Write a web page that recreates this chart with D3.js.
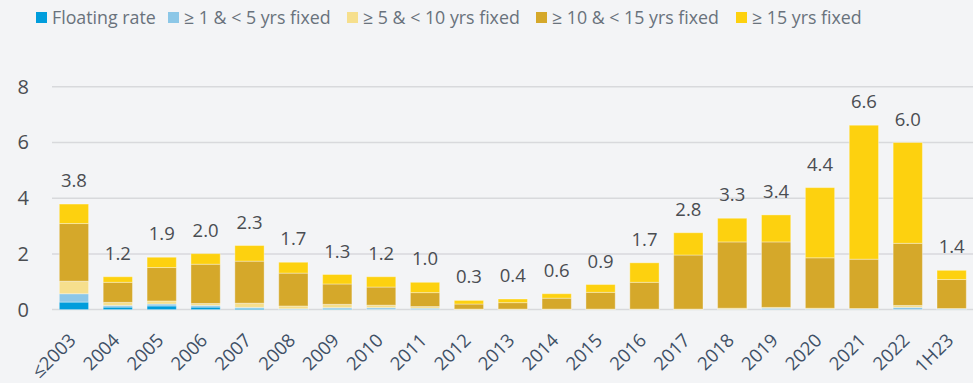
<!DOCTYPE html>
<html>
<head>
<meta charset="utf-8">
<script src="https://cdn.jsdelivr.net/npm/d3@7/dist/d3.min.js"></script>
<style>
  html, body { margin: 0; padding: 0; background: #f3f4f6; }
  svg { display: block; font-family: "Open Sans", "Noto Sans", sans-serif; }
</style>
</head>
<body>
<svg id="chart" width="973" height="383"></svg>
<script>
// Issuance by fixed-rate period (totals per year)
const categories = ["≤2003","2004","2005","2006","2007","2008","2009","2010","2011","2012",
  "2013","2014","2015","2016","2017","2018","2019","2020","2021","2022","1H23"];

const floatingRate = [0.27,0.09,0.13,0.09,0.05,0.01,0.02,0.01,0.00,0,0,0,0,0,0,0,0,0,0,0,0];
const fixed1to5    = [0.30,0.06,0.07,0.06,0.03,0.02,0.05,0.06,0.05,0,0,0,0,0,0,0.01,0.05,0.02,0.02,0.08,0.02];
const fixed5to10   = [0.45,0.11,0.11,0.07,0.15,0.10,0.12,0.09,0.06,0.02,0.02,0.02,0.02,0.02,0.02,0.04,0.03,0.03,0.02,0.07,0.02];
const fixed10to15  = [2.07,0.72,1.20,1.41,1.51,1.18,0.73,0.65,0.50,0.18,0.23,0.39,0.60,0.96,1.94,2.38,2.35,1.81,1.77,2.23,1.04];
const fixed15plus  = [0.70,0.20,0.37,0.38,0.56,0.39,0.34,0.37,0.37,0.13,0.13,0.16,0.28,0.70,0.80,0.85,0.97,2.52,4.81,3.62,0.33];

const seriesNames = ["Floating rate","≥ 1 & < 5 yrs fixed","≥ 5 & < 10 yrs fixed","≥ 10 & < 15 yrs fixed","≥ 15 yrs fixed"];
const seriesColors = ["#009ddc","#8cc7e7","#f6df8d","#d5a82a","#fdd10f"];
const yTicks = [0, 2, 4, 6, 8];

const seriesValues = [floatingRate, fixed1to5, fixed5to10, fixed10to15, fixed15plus];
const keys = d3.range(seriesNames.length).map(String);
const rows = categories.map((c, i) => {
  const r = { cat: c };
  keys.forEach((k, j) => r[k] = seriesValues[j][i]);
  r.total = d3.sum(seriesValues, s => s[i]);
  return r;
});

const svg = d3.select("#chart");
const x = d3.scaleBand().domain(categories).range([52, 973.6]).paddingInner(0.333).paddingOuter(0.1665);
const y = d3.scaleLinear().domain([0, 8]).range([309.6, 86.8]);

// grid lines
svg.append("g").selectAll("line").data(yTicks).join("line")
  .attr("x1", 52).attr("x2", 973)
  .attr("y1", d => y(d)).attr("y2", d => y(d))
  .attr("stroke", "#d8d9dc").attr("stroke-width", 1.5);

// y axis labels
const yAxis = svg.append("g").attr("transform", "translate(29,0)")
  .call(d3.axisLeft(y).tickValues(yTicks).tickSize(0).tickPadding(0).tickFormat(d3.format("d")));
yAxis.select(".domain").remove();
yAxis.selectAll("text").attr("fill", "#4a4d52").style("font-size", "20px")
  .style("font-family", "'Open Sans', sans-serif");

// stacked bars
const stacked = d3.stack().keys(keys)(rows);
svg.append("g").selectAll("g").data(stacked).join("g")
  .attr("fill", (d, i) => seriesColors[i])
  .selectAll("rect").data(d => d).join("rect")
  .attr("x", d => x(d.data.cat))
  .attr("width", x.bandwidth())
  .attr("y", d => y(d[1]))
  .attr("height", d => Math.max(0, y(d[0]) - y(d[1])))
  .attr("stroke", "rgba(255,255,255,0.35)").attr("stroke-width", 1);

// total labels
const fmt = d3.format(".1f");
svg.append("g").selectAll("text").data(rows).join("text")
  .attr("x", d => x(d.cat) + x.bandwidth() / 2)
  .attr("y", d => y(d.total) - 17)
  .attr("text-anchor", "middle")
  .attr("fill", "#4a4d52")
  .style("font-size", "18.5px")
  .text(d => fmt(Math.round(d.total * 10) / 10));

// x axis labels
const xAxis = svg.append("g").attr("transform", `translate(0,${y(0)})`)
  .call(d3.axisBottom(x).tickSize(0));
xAxis.select(".domain").remove();
xAxis.selectAll("text")
  .attr("x", 0).attr("y", 0).attr("dy", 0)
  .attr("text-anchor", "end")
  .attr("transform", "translate(3,32) rotate(-45)")
  .attr("fill", "#3f5066")
  .style("font-size", "18.5px")
  .style("font-family", "'Open Sans', sans-serif");

// legend: swatch + label, laid out left to right
const legendX = [36, 168, 347, 536, 736];
const legend = svg.append("g");
seriesNames.forEach((name, i) => {
  const g = legend.append("g").attr("transform", `translate(${legendX[i]},0)`);
  g.append("rect").attr("x", 0).attr("y", 12).attr("width", 11).attr("height", 11).attr("fill", seriesColors[i]);
  g.append("text").attr("x", 16).attr("y", 24)
    .attr("fill", "#69727c").style("font-size", "17.8px").text(name);
});
</script>
</body>
</html>
